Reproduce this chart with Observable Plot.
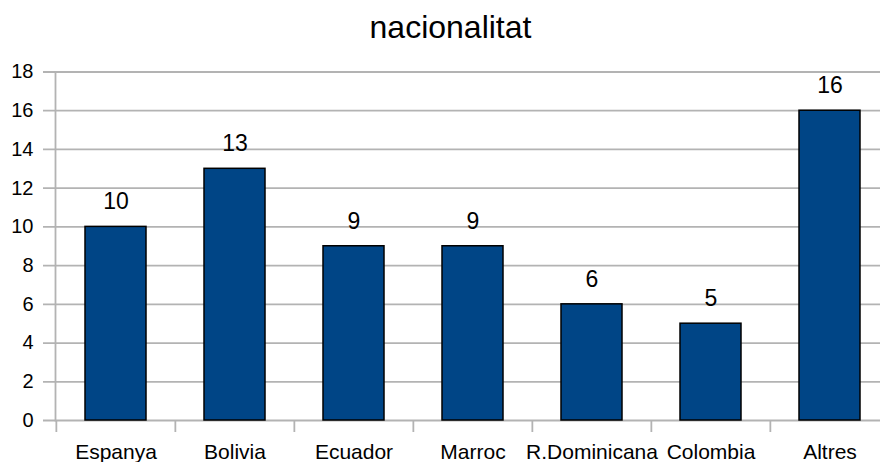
<!DOCTYPE html>
<html><head><meta charset="utf-8">
<script src="https://cdn.jsdelivr.net/npm/d3@7"></script>
<script src="https://cdn.jsdelivr.net/npm/@observablehq/plot@0.6"></script>
<style>
body{margin:0;background:#fff;font-family:"Liberation Sans",Arial,sans-serif;}
#title{height:52px;padding-top:7px;line-height:40px;text-align:center;font-size:32px;color:#000;padding-left:21px;box-sizing:border-box;width:880px;}
svg{display:block;overflow:hidden;}
</style></head>
<body>
<div id="title">nacionalitat</div>
<div id="chart"></div>
<script>
const categories = ["Espanya","Bolivia","Ecuador","Marroc","R.Dominicana","Colombia","Altres"];
const values = [10,13,9,9,6,5,16];
const yTicks = [0,2,4,6,8,10,12,14,16,18];

const data = categories.map((c,i)=>({cat:c, v:values[i]}));
const W = 880, ML = 55, MR = -10;
const bw = (W - ML - MR) / categories.length;
const grid = "#b3b3b3";

const plot = Plot.plot({
  width: W, height: 410,
  marginLeft: ML, marginRight: MR, marginTop: 19.5, marginBottom: 42,
  style: {fontFamily: '"Liberation Sans", Arial, sans-serif', fontSize: "20px", color: "#000"},
  x: {domain: categories, paddingInner: 0.49, paddingOuter: 0.245},
  y: {domain: [0,18]},
  marks: [
    Plot.ruleY(yTicks, {stroke: grid, strokeWidth: 1.8, insetLeft: -12}),
    Plot.frame({anchor: "left", stroke: grid, strokeWidth: 1.8}),
    Plot.axisX({tickSize: 12, text: null, label: null, dx: -bw/2, stroke: grid, strokeWidth: 1.8, strokeOpacity: 1}),
    Plot.axisX({tickSize: 0, tickPadding: 24, fontSize: 21, label: null}),
    Plot.axisY({ticks: yTicks, tickSize: 0, tickPadding: 22, fontSize: 20, label: null}),
    Plot.barY(data, {x: "cat", y: "v", fill: "#004586", stroke: "#000", strokeWidth: 1.5}),
    Plot.text(data, {x: "cat", y: "v", text: d => String(d.v), dy: -25, fontSize: 23, fill: "#000"})
  ]
});
document.getElementById("chart").appendChild(plot);
</script>
</body></html>
